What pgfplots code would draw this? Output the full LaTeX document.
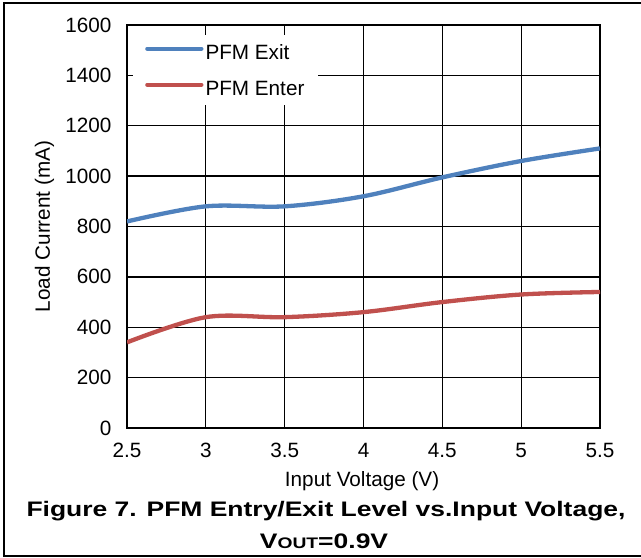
\documentclass[border=0pt]{standalone}
\usepackage{pgfplots}
\pgfplotsset{compat=1.18}
\usepackage{graphicx}
\usepackage{fontspec}
\setmainfont{Liberation Sans}

\definecolor{exitblue}{RGB}{79,129,189}
\definecolor{enterred}{RGB}{192,80,77}

\newcommand{\chartfont}{\fontsize{20.7bp}{24bp}\selectfont}

\begin{document}
\begin{tikzpicture}[x=1bp,y=1bp]
\useasboundingbox (0,0) rectangle (641,558);
% outer frame
\draw[line width=2bp] (4,2) rectangle (646,555);

\begin{axis}[
  at={(127bp,130bp)}, anchor=south west,
  scale only axis, width=473bp, height=403bp,
  xmin=2.5, xmax=5.5, ymin=0, ymax=1600,
  xtick={2.5,3,3.5,4,4.5,5,5.5},
  ytick={0,200,400,600,800,1000,1200,1400,1600},
  /pgf/number format/1000 sep={},
  /pgf/number format/assume math mode=true,
  tick label style={font=\chartfont, black},
  yticklabel style={xshift=-12bp},
  xticklabel style={yshift=-12bp},
  tick style={draw=none},
  grid=major,
  major grid style={black, line width=1.3bp},
  axis line style={black, line width=1.8bp},
  xlabel={Input Voltage (V)},
  ylabel={Load Current (mA)},
  every axis x label/.style={at={(axis description cs:0.497,-0.1464)}, anchor=base, font=\chartfont},
  every axis y label/.style={at={(axis description cs:-0.1628,0.5)}, anchor=base, rotate=90, font=\chartfont},
  legend style={at={(rel axis cs:0.01268,0.9752)}, anchor=north west,
    draw=none, fill=white, font=\chartfont,
    inner xsep=12bp, inner ysep=7bp, row sep=16bp,
    nodes={inner sep=2bp, text height=15bp, text depth=1bp},
    cells={anchor=west}},
  legend image code/.code={\draw[#1, line cap=round] (0bp,0.35em) -- (54bp,0.35em);},
]
\addplot[exitblue, line width=4.3bp, smooth, tension=0.55] coordinates {
  (2.5,820) (3.0,880) (3.5,880) (4.0,920) (4.5,995) (5.0,1060) (5.5,1110)
};
\addlegendentry{PFM Exit}
\addplot[enterred, line width=4.3bp, smooth, tension=0.55] coordinates {
  (2.5,340) (3.0,440) (3.5,440) (4.0,460) (4.5,500) (5.0,530) (5.5,540)
};
\addlegendentry{PFM Enter}
\end{axis}

% caption
\node[anchor=base, inner sep=0pt] at (326,41)
  {\scalebox{1.26}[1]{\fontsize{21bp}{24bp}\selectfont\bfseries Figure 7. PFM Entry/Exit Level vs.Input Voltage,}};
\node[anchor=base, inner sep=0pt] at (324,9)
  {\scalebox{1.26}[1]{\fontsize{21bp}{24bp}\selectfont\bfseries V{\fontsize{15.3bp}{18bp}\selectfont OUT}=0.9V}};
\end{tikzpicture}
\end{document}
